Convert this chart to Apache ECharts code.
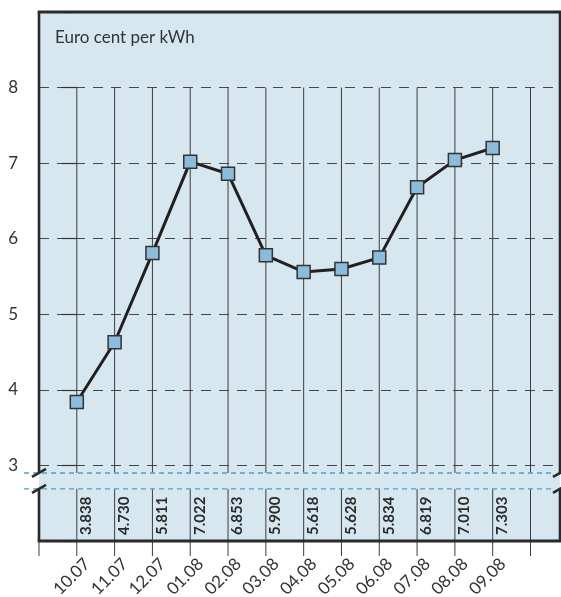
<!DOCTYPE html>
<html>
<head>
<meta charset="utf-8">
<script src="https://cdn.jsdelivr.net/npm/echarts@6/dist/echarts.min.js"></script>
<style>
    html, body {margin: 0; padding: 0; background: #fff;}
    #chart {width: 561px; height: 597px;}
</style>
</head>
<body>
<div id="chart"></div>
<script>
// x categories (months)
var months = ["10.07", "11.07", "12.07", "01.08", "02.08", "03.08", "04.08", "05.08", "06.08", "07.08", "08.08", "09.08"];
// where the squares sit in the picture
var prices = [3.84, 4.63, 5.81, 7.02, 6.86, 5.78, 5.56, 5.60, 5.75, 6.68, 7.04, 7.20];
// figures printed in the bottom band
var priceLabels = ["3.838", "4.730", "5.811", "7.022", "6.853", "5.900", "5.618", "5.628", "5.834", "6.819", "7.010", "7.303"];
// labelled ticks on the y axis
var yTicks = [3, 4, 5, 6, 7, 8];

var xMin = -1, xMax = 12.78, yMin = 2, yMax = 9;
var breakTop = 2.9, breakBottom = 2.69;
var gridTop = 8;

var FONT = "Lato";
var DARK = "#2a2a2a";

function seg(p1, p2, color, width, dash) {
    return {
        type: 'line',
        shape: {x1: p1[0], y1: p1[1], x2: p2[0], y2: p2[1]},
        style: {stroke: color, lineWidth: width, lineDash: dash || null}
    };
}

/**
 * vertical lines, ticks under the x axis, break band
 */
function renderGrid(params, api) {
    var children = [];
    for (var i = -1; i <= 12; i++) {
        var bot = api.coord([i, yMin]);
        if (i >= 0) {
            children.push(seg(api.coord([i, gridTop]), api.coord([i, breakTop]), "#3c3c3c", 1));
            children.push(seg(api.coord([i, breakBottom]), bot, "#3c3c3c", 1));
        }
        children.push(seg(bot, [bot[0], bot[1] + 15], "#3c3c3c", 1));
    }
    var l1 = api.coord([xMin, breakTop]), r1 = api.coord([xMax, breakTop]);
    var l2 = api.coord([xMin, breakBottom]), r2 = api.coord([xMax, breakBottom]);
    children.push(seg([l1[0] - 15, l1[1]], [r1[0] - 6, r1[1]], "#4d9fd0", 1.3, [5, 4]));
    children.push(seg([l2[0] - 15, l2[1]], [r2[0] - 6, r2[1]], "#4d9fd0", 1.3, [5, 4]));
    return {type: 'group', children: children};
}

/**
 * frame with the break marks on both sides
 */
function renderFrame(params, api) {
    var children = [];
    var tl = api.coord([xMin, yMax]), tr = api.coord([xMax, yMax]);
    var bl = api.coord([xMin, yMin]), br = api.coord([xMax, yMin]);
    children.push(seg([tl[0] - 1.3, tl[1]], [tr[0] + 1.3, tr[1]], DARK, 3));
    children.push(seg([bl[0] - 1.3, bl[1]], [br[0] + 1.3, br[1]], DARK, 3));
    [xMin, xMax].forEach(function (x) {
        children.push(seg(api.coord([x, yMax]), api.coord([x, breakTop]), DARK, 2.6));
        children.push(seg(api.coord([x, breakBottom]), api.coord([x, yMin]), DARK, 2.6));
        [breakTop, breakBottom].forEach(function (y) {
            var p = api.coord([x, y]);
            children.push(seg([p[0] - 7, p[1] + 4], [p[0] + 7, p[1] - 4], DARK, 2.6));
        });
    });
    return {type: 'group', children: children};
}

/**
 * the figures standing upright in the bottom band
 */
function renderValueLabels(params, api) {
    var i = api.value(0);
    var p = api.coord([i, yMin]);
    return {
        type: 'text',
        x: p[0] + 9.5,
        y: p[1] - 6,
        rotation: Math.PI / 2,
        style: {
            text: priceLabels[i],
            fontFamily: FONT,
            fontWeight: 'bold',
            fontSize: 15,
            fill: DARK,
            align: 'left',
            verticalAlign: 'middle'
        }
    };
}

var chart = echarts.init(document.getElementById("chart"));
var option = {
    animation: false,
    title: {
        text: "Euro cent per kWh",
        left: 50,
        top: 24,
        textStyle: {fontFamily: FONT, fontSize: 17, fontWeight: 'normal', color: "#333"}
    },
    grid: {
        left: 39, right: 1, top: 12, bottom: 56,
        outerBoundsMode: 'none',
        show: true, backgroundColor: "#d7e7f0", borderWidth: 0
    },
    xAxis: {
        type: 'value',
        min: xMin,
        max: xMax,
        interval: 1,
        axisLine: {show: false},
        axisTick: {show: false},
        splitLine: {show: false},
        axisLabel: {
            rotate: 45,
            margin: 10,
            verticalAlign: 'top',
            padding: [6, 0, 0, 0],
            fontFamily: FONT,
            fontSize: 17,
            color: "#333",
            formatter: function (v) {
                return (v >= 0 && v < months.length && v === Math.round(v)) ? months[v] : "";
            }
        }
    },
    yAxis: {
        type: 'value',
        min: yMin,
        max: yMax,
        interval: 1,
        axisLine: {show: false},
        axisTick: {show: true, length: 15, lineStyle: {color: "#333", width: 1.2}},
        axisLabel: {
            margin: 21,
            fontFamily: FONT,
            fontSize: 17,
            color: "#333",
            formatter: function (v) {
                return yTicks.indexOf(v) >= 0 ? String(v) : "";
            }
        },
        splitLine: {show: true, lineStyle: {color: "#474747", width: 1.2, type: [10, 8]}}
    },
    series: [
        {
            type: 'custom',
            name: 'grid',
            renderItem: renderGrid,
            data: [[0, yMin]],
            clip: false,
            silent: true,
            z: 1
        },
        {
            type: 'line',
            name: 'price',
            data: prices.map(function (v, i) { return [i, v]; }),
            symbol: 'rect',
            symbolSize: 13,
            lineStyle: {color: "#231f20", width: 3},
            itemStyle: {color: "#8cbcdb", borderColor: "#333", borderWidth: 1.5},
            z: 4
        },
        {
            type: 'custom',
            name: 'labels',
            renderItem: renderValueLabels,
            data: priceLabels.map(function (t, i) { return [i, yMin]; }),
            clip: false,
            silent: true,
            z: 5
        },
        {
            type: 'custom',
            name: 'frame',
            renderItem: renderFrame,
            data: [[0, yMin]],
            clip: false,
            silent: true,
            z: 6
        }
    ]
};
chart.setOption(option);
</script>
</body>
</html>
